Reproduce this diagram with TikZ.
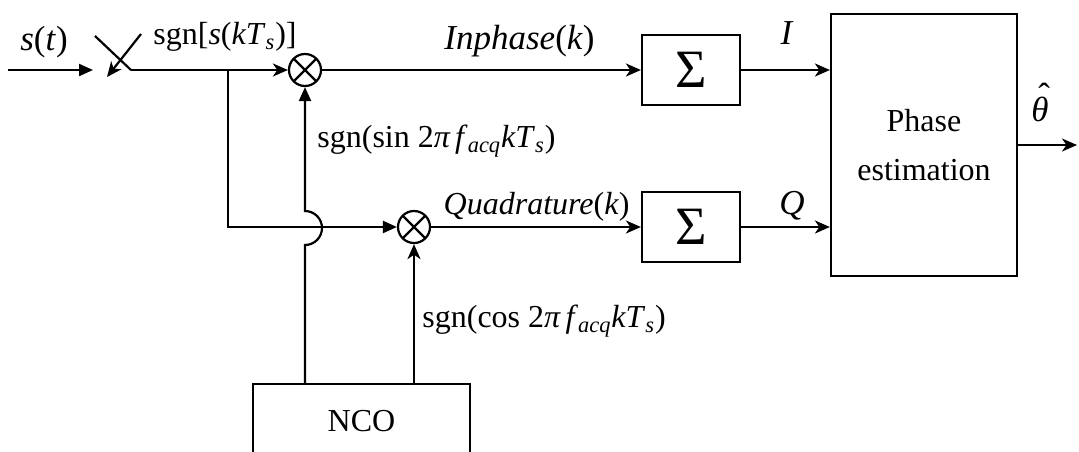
\documentclass[tikz,border=0pt]{standalone}
\usepackage{fontspec}
\setmainfont{Liberation Serif}
\usetikzlibrary{arrows.meta}
\newcommand\vi[1]{\textit{#1}}
\newcommand\sbi[1]{\textsubscript{\textit{#1}}}
\newcommand\thetahat{\makebox[0pt][l]{\kern0.2em\raisebox{0.38em}{ˆ}}\vi{θ}}
\tikzset{
  wire/.style={line width=1.1pt},
  blk/.style={draw, line width=1.1pt, inner sep=0pt},
  mult/.style={draw, circle, line width=1.1pt, minimum size=16pt, inner sep=0pt,
    path picture={\draw[line width=1.1pt] (path picture bounding box.north west) -- (path picture bounding box.south east)
      (path picture bounding box.north east) -- (path picture bounding box.south west);}},
  lbl/.style={anchor=base, inner sep=0pt},
  lblw/.style={anchor=base west, inner sep=0pt},
  lble/.style={anchor=base east, inner sep=0pt},
  big/.style={font=\fontsize{17.5}{20}\selectfont},
  tri/.style={-{Triangle[length=7pt,width=6pt]}},
  stl/.style={-{Stealth[length=7.5pt,width=6.5pt,inset=2.2pt]}}
}
\begin{document}
\begin{tikzpicture}[x=0.5pt,y=-0.5pt, font=\fontsize{16}{19}\selectfont]
\useasboundingbox (0,0) rectangle (1079,451);
% blocks
\node[mult] (m1) at (305,70) {};
\node[mult] (m2) at (414,227) {};
\node[blk, minimum width=49pt, minimum height=35pt] (s1) at (691,70) {\fontsize{27}{27}\selectfont Σ};
\node[blk, minimum width=49pt, minimum height=35pt] (s2) at (691,227) {\fontsize{27}{27}\selectfont Σ};
\node[blk, minimum width=93pt, minimum height=131pt, align=center, font=\fontsize{16}{24.5}\selectfont] (pe) at (924,145) {Phase\\estimation};
\node[blk, minimum width=108.5pt, minimum height=37pt] (nco) at (361.5,421) {NCO};
% coordinates
\coordinate (in) at (8,70);
\coordinate (inend) at (93,70);
\coordinate (swA) at (95,36);
\coordinate (swB) at (131,70);
\coordinate (swC) at (141,34);
\coordinate (swD) at (107,77);
\coordinate (br) at (228,70);
\coordinate (brd) at (228,227);
\coordinate (hopb) at (305,245);
\coordinate (out) at (1077,145);
% input and switch
\draw[wire,tri] (in) -- (inend);
\draw[wire] (swA) -- (swB);
\draw[wire,stl] (swC) -- (swD);
\draw[wire,stl] (swB) -- (m1.west);
\draw[wire,tri] (br) -- (brd) -- (m2.west);
% NCO to multipliers
\draw[wire,tri] (nco.north -| m1) -- (hopb) arc[start angle=-90, end angle=90, radius=8.5pt] -- (m1.south);
\draw[wire,stl] (nco.north -| m2) -- (m2.south);
% paths to sums and estimator
\draw[wire,stl] (m1.east) -- (s1.west);
\draw[wire,stl] (m2.east) -- (s2.west);
\draw[wire,stl] (s1.east) -- (s1.east -| pe.west);
\draw[wire,stl] (s2.east) -- (s2.east -| pe.west);
\draw[wire,stl] (pe.east) -- (out);
% labels
\node[lbl,big] (ls) at (44,50) {\vi{s}(\vi{t})};
\node[lbl] (lsgn) at (225,44) {sgn[\vi{s}(\vi{kT}\sbi{s})]};
\node[lble,big] (lin) at (595,49) {\vi{Inphase}(\vi{k})};
\node[lbl,big] (lI) at (787,44) {\vi{I}};
\node[lblw] (lsin) at (317,147) {sgn(sin 2\vi{π\,f}\sbi{acq}\vi{kT}\sbi{s})};
\node[lble] (lq) at (630,214) {\vi{Quadrature}(\vi{k})};
\node[lbl,big] (lQ) at (792,214) {\vi{Q}};
\node[lblw] (lcos) at (422,327) {sgn(cos 2\vi{π\,f}\sbi{acq}\vi{kT}\sbi{s})};
\node[lbl,big] (lth) at (1040,121) {\thetahat};
\end{tikzpicture}
\end{document}
